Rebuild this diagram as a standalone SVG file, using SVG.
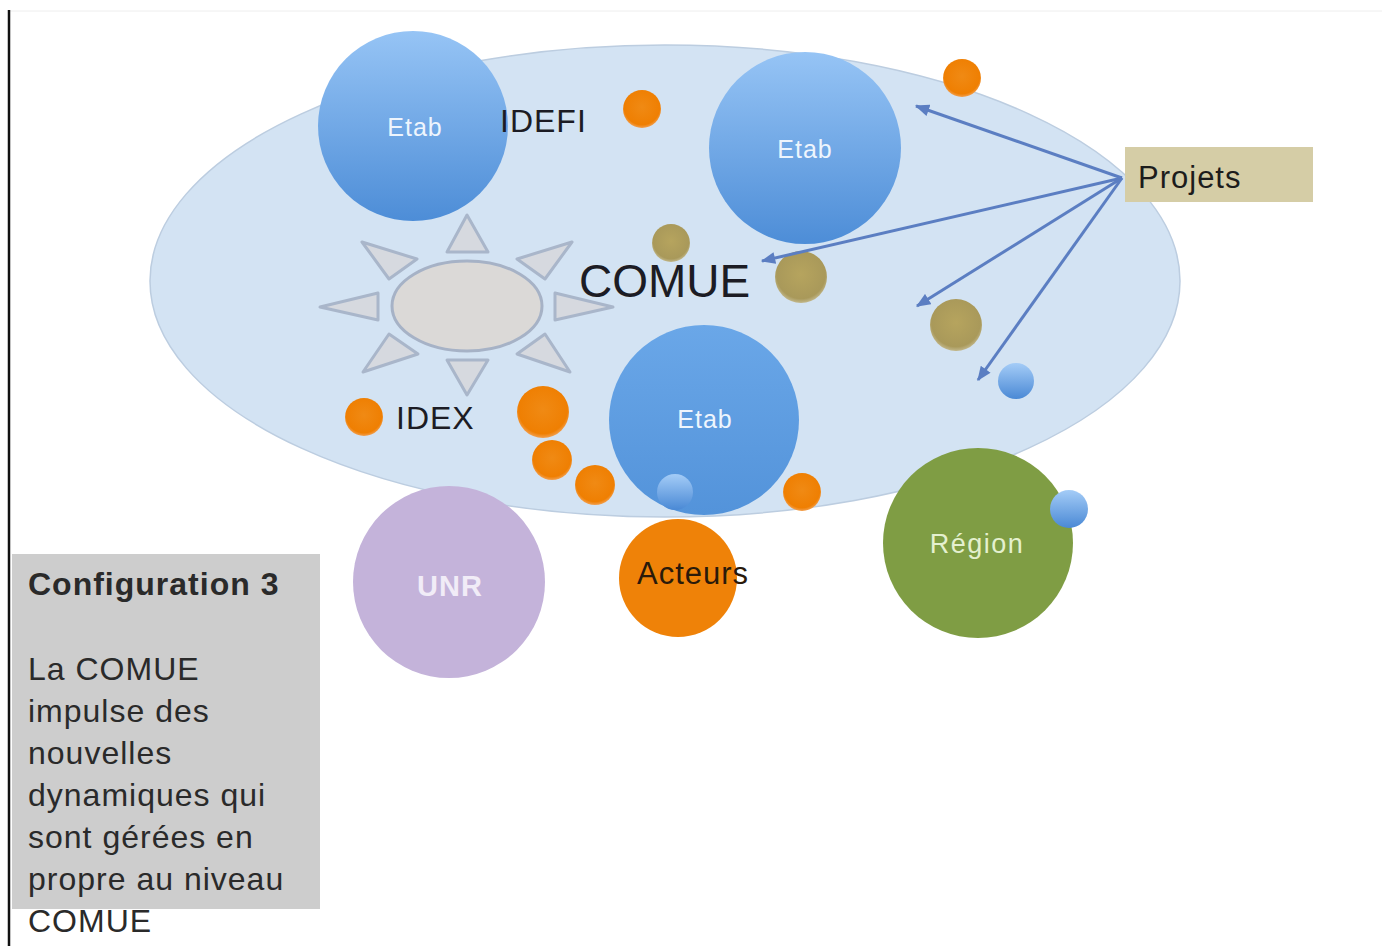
<svg xmlns="http://www.w3.org/2000/svg" width="1382" height="946" viewBox="0 0 1382 946">
<defs>
<style>
.lbl{font-family:"Liberation Sans",Arial,sans-serif;}
.etab{font-family:"Liberation Sans",Arial,sans-serif;font-size:25px;fill:#eef5fd;text-anchor:middle;letter-spacing:1px;}
.dark{fill:#1c1c24;}
.orange{fill:url(#gOrange);}
.tan{fill:url(#gTan);}
.sblue{fill:url(#gSmallBlue);}
.ray{fill:#d6d9df;stroke:#a9b6ca;stroke-width:3;stroke-linejoin:round;}
.conn{stroke:#5b7ec2;stroke-width:3;fill:none;marker-end:url(#arr);}
.cfg{font-family:"Liberation Sans",Arial,sans-serif;font-size:32px;fill:#2a2a2a;letter-spacing:1px;}
</style>
<linearGradient id="gEtab" x1="0" y1="0" x2="0" y2="1">
<stop offset="0" stop-color="#96c4f5"/>
<stop offset="1" stop-color="#4d8dd7"/>
</linearGradient>
<linearGradient id="gEtab2" x1="0" y1="0" x2="0" y2="1">
<stop offset="0" stop-color="#6aa7e8"/>
<stop offset="1" stop-color="#5393da"/>
</linearGradient>
<linearGradient id="gSmallBlue" x1="0" y1="0" x2="0" y2="1">
<stop offset="0" stop-color="#a4ccf7"/>
<stop offset="1" stop-color="#4a89d5"/>
</linearGradient>
<radialGradient id="gOrange" cx="0.5" cy="0.45" r="0.55">
<stop offset="0" stop-color="#f08a14"/>
<stop offset="0.85" stop-color="#ef7f02"/>
<stop offset="1" stop-color="#f2a050"/>
</radialGradient>
<radialGradient id="gTan" cx="0.5" cy="0.45" r="0.55">
<stop offset="0" stop-color="#b6a45e"/>
<stop offset="0.85" stop-color="#a9995a"/>
<stop offset="1" stop-color="#c2b88c"/>
</radialGradient>
<marker id="arr" viewBox="0 0 12 10" refX="11" refY="5" markerWidth="5" markerHeight="4" orient="auto" markerUnits="strokeWidth">
<path d="M0,0 L12,5 L0,10 Z" fill="#5b7ec2"/>
</marker>
</defs>

<rect x="0" y="0" width="1382" height="946" fill="#ffffff"/>
<line x1="9" y1="11" x2="1382" y2="11" stroke="#eeeeee" stroke-width="1"/>
<line x1="9" y1="10" x2="9" y2="946" stroke="#111111" stroke-width="2.5"/>

<g id="comue-ellipse">
<ellipse cx="665" cy="281" rx="515" ry="236" fill="#d3e3f3" stroke="#bccde0" stroke-width="1.5"/>
</g>

<g id="idex-sun">
<polygon class="ray" points="467,215 447,252 488,252"/>
<polygon class="ray" points="467,395 447,360 488,360"/>
<polygon class="ray" points="320,307 378,293 378,320"/>
<polygon class="ray" points="613,307 555,293 555,320"/>
<polygon class="ray" points="362,242 417,259 389,279"/>
<polygon class="ray" points="572,242 517,259 545,279"/>
<polygon class="ray" points="363,372 389,334 418,354"/>
<polygon class="ray" points="570,372 545,334 517,354"/>
<ellipse cx="467" cy="306" rx="75" ry="45" fill="#dbd9d7" stroke="#a6b2c6" stroke-width="3"/>
</g>

<g id="etab-1">
<circle cx="413" cy="126" r="95" fill="url(#gEtab)"/>
<text class="etab" x="415" y="136">Etab</text>
</g>
<g id="etab-2">
<circle cx="805" cy="148" r="96" fill="url(#gEtab)"/>
<text class="etab" x="805" y="158">Etab</text>
</g>
<g id="etab-3">
<circle cx="704" cy="420" r="95" fill="url(#gEtab2)"/>
<text class="etab" x="705" y="428">Etab</text>
</g>

<g id="label-idefi">
<text class="lbl dark" x="500" y="132" font-size="32" letter-spacing="1">IDEFI</text>
</g>
<g id="label-comue">
<text class="lbl dark" x="579" y="297" font-size="46">COMUE</text>
</g>
<g id="label-idex">
<text class="lbl dark" x="396" y="429" font-size="32" letter-spacing="1">IDEX</text>
</g>

<g id="dots">
<circle class="orange" cx="642" cy="109" r="19"/>
<circle class="orange" cx="962" cy="78" r="19"/>
<circle class="orange" cx="364" cy="417" r="19"/>
<circle class="orange" cx="543" cy="412" r="26"/>
<circle class="orange" cx="552" cy="460" r="20"/>
<circle class="orange" cx="595" cy="485" r="20"/>
<circle class="orange" cx="802" cy="492" r="19"/>
<circle class="tan" cx="671" cy="243" r="19"/>
<circle class="tan" cx="801" cy="277" r="26"/>
<circle class="tan" cx="956" cy="325" r="26"/>
<circle class="sblue" cx="1016" cy="381" r="18"/>
</g>

<g id="unr">
<circle cx="449" cy="582" r="96" fill="#c4b3da"/>
<text class="lbl" x="450" y="596" font-size="29" font-weight="bold" fill="#f1ecf7" text-anchor="middle" letter-spacing="1">UNR</text>
</g>

<g id="acteurs">
<circle cx="678" cy="578" r="59" fill="#ef8208"/>
<text class="lbl" x="637" y="584" font-size="31" fill="#2a1a0a" letter-spacing="1">Acteurs</text>
</g>
<circle class="sblue" cx="675" cy="492" r="18"/>

<g id="region">
<circle cx="978" cy="543" r="95" fill="#7f9d44"/>
<text class="lbl" x="977" y="553" font-size="27" fill="#e4f0cf" text-anchor="middle" letter-spacing="1.5">Région</text>
<circle class="sblue" cx="1069" cy="509" r="19"/>
</g>

<g id="projets">
<rect x="1125" y="147" width="188" height="55" fill="#d5cda6"/>
<text class="lbl" x="1138" y="188" font-size="31" fill="#1c1c1c" letter-spacing="1">Projets</text>
</g>

<g id="connectors">
<line class="conn" x1="1122" y1="178" x2="916" y2="106"/>
<line class="conn" x1="1122" y1="178" x2="762" y2="261"/>
<line class="conn" x1="1122" y1="178" x2="917" y2="306"/>
<line class="conn" x1="1122" y1="178" x2="978" y2="380"/>
</g>

<g id="config-box">
<rect x="12" y="554" width="308" height="355" fill="#cdcdcd"/>
<text class="cfg" x="28" y="595" font-weight="bold" font-size="30" letter-spacing="0.8">Configuration 3</text>
<text class="cfg" x="28" y="680">La COMUE</text>
<text class="cfg" x="28" y="722">impulse des</text>
<text class="cfg" x="28" y="764">nouvelles</text>
<text class="cfg" x="28" y="806">dynamiques qui</text>
<text class="cfg" x="28" y="848">sont gérées en</text>
<text class="cfg" x="28" y="890">propre au niveau</text>
<text class="cfg" x="28" y="932">COMUE</text>
</g>
</svg>
